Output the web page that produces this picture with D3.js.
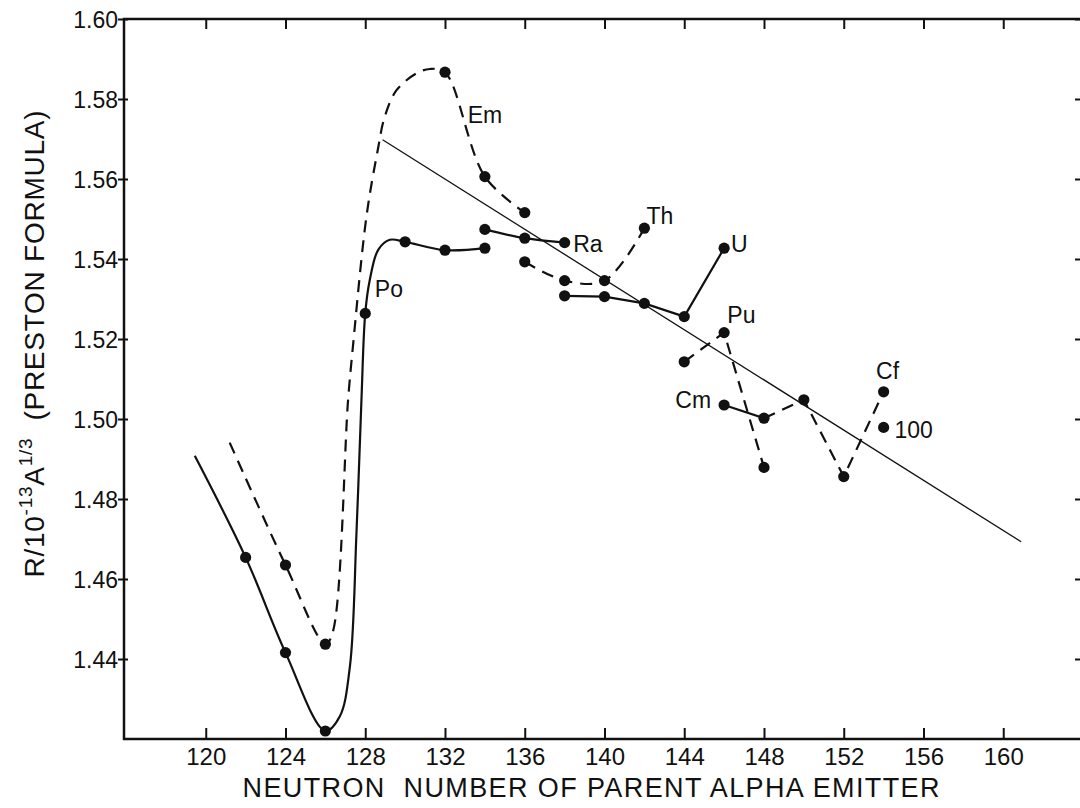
<!DOCTYPE html>
<html>
<head>
<meta charset="utf-8">
<script src="https://cdn.jsdelivr.net/npm/d3@7"></script>
<style>
  html, body { margin: 0; padding: 0; background: #fff; }
  svg { display: block; }
  text { font-family: "Liberation Sans", "DejaVu Sans", sans-serif; fill: #111; }
</style>
</head>
<body>
<div id="chart"></div>
<script>
// tick labels
var xTicks = [120, 124, 128, 132, 136, 140, 144, 148, 152, 156, 160];
var yTicks = [1.44, 1.46, 1.48, 1.50, 1.52, 1.54, 1.56, 1.58, 1.60];

// measured points (dots), [neutron number, R/10^-13 A^1/3]
var poDots = [[122, 1.4654], [124, 1.4416], [126, 1.4220], [128, 1.5264], [130, 1.5443], [132, 1.5422], [134, 1.5427]];
var emDots = [[124, 1.4635], [126, 1.4437], [132, 1.5867], [134, 1.5606], [136, 1.5516]];
var raDots = [[134, 1.5474], [136, 1.5452], [138, 1.5441]];
var thDots = [[136, 1.5393], [138, 1.5346], [140, 1.5346], [142, 1.5477]];
var uDots = [[138, 1.5308], [140, 1.5306], [142, 1.5289], [144, 1.5256], [146, 1.5427]];
var puDots = [[144, 1.5143], [146, 1.5216], [148, 1.4879]];
var cmDots = [[146, 1.5035], [148, 1.5002]];
var cfDots = [[150, 1.5048], [152, 1.4856], [154, 1.5068]];
var e100Dots = [[154, 1.4979]];

// hand drawn curves (ends and bends included)
var poCurve = [[119.45, 1.4908], [122, 1.4654], [124, 1.4416], [126, 1.4220], [126.72, 1.4256], [127.23, 1.4381],
  [127.56, 1.4715], [127.81, 1.5048], [128, 1.5264], [128.23, 1.5348], [128.65, 1.5423], [129.23, 1.5448],
  [130, 1.5443], [132, 1.5422], [134, 1.5427]];
var emCurve = [[121.2, 1.4941], [124, 1.4635], [126, 1.4437], [126.36, 1.4465], [127.14, 1.5048], [127.38, 1.518],
  [128.06, 1.5506], [128.63, 1.5673], [128.98, 1.5756], [129.57, 1.5822], [130.57, 1.5864], [131.24, 1.5875],
  [132, 1.5867], [134, 1.5606], [136, 1.5516]];
var cfCurve = [[148, 1.5002], [150, 1.5048], [152, 1.4856], [154, 1.5068]];
var trendLine = [[128.87, 1.5698], [160.9, 1.4693]];

var elementNames = ["Po", "Em", "Ra", "Th", "U", "Pu", "Cm", "Cf", "100"];
var labelAt = [[128.48, 1.5305], [133.14, 1.5741], [138.43, 1.5418], [142.11, 1.5488], [146.34, 1.5418],
  [146.16, 1.5239], [143.55, 1.5027], [153.62, 1.5099], [154.54, 1.4952]];

var width = 1080,
    height = 808;

var x = d3.scaleLinear().domain([115.9, 163.85]).range([124, 1080]);
var y = d3.scaleLinear().domain([1.42, 1.60]).range([739, 19]);

var svg = d3.select("#chart").append("svg").attr("width", width).attr("height", height);

// frame
var x0 = x.range()[0], x1 = x.range()[1] + 2, yTop = y.range()[1], yBot = y.range()[0];
svg.append("path")
  .attr("d", "M" + x0 + "," + yTop + "H" + x1 + "V" + yBot + "H" + x0 + "Z")
  .attr("fill", "none").attr("stroke", "#111").attr("stroke-width", 2.5);

// bottom axis, ticks pointing in
var xAxis = d3.axisBottom(x).tickValues(xTicks).tickSizeInner(-11).tickSizeOuter(0).tickPadding(16).tickFormat(d3.format("d"));
var gx = svg.append("g").attr("transform", "translate(0," + yBot + ")").call(xAxis);
gx.select(".domain").remove();
gx.selectAll("line").attr("stroke", "#111").attr("stroke-width", 2);
gx.selectAll("text").attr("font-size", 24).attr("fill", "#111").attr("dy", "0.42em");

// top ticks
var gxt = svg.append("g").attr("transform", "translate(0," + yTop + ")")
  .call(d3.axisTop(x).tickValues(xTicks).tickSizeInner(-10).tickSizeOuter(0).tickFormat(""));
gxt.select(".domain").remove();
gxt.selectAll("line").attr("stroke", "#111").attr("stroke-width", 2);

// left axis, ticks crossing the line
var gy = svg.append("g").attr("transform", "translate(" + x0 + ",0)")
  .call(d3.axisLeft(y).tickValues(yTicks).tickSizeInner(6).tickSizeOuter(0).tickPadding(2).tickFormat(d3.format(".2f")));
gy.select(".domain").remove();
gy.selectAll("line").attr("stroke", "#111").attr("stroke-width", 2).attr("x2", 4).attr("x1", -6);
gy.selectAll("text").attr("font-size", 23).attr("fill", "#111").attr("x", -6).attr("dy", "0.36em");

// right ticks
var gyr = svg.append("g").attr("transform", "translate(" + x1 + ",0)")
  .call(d3.axisRight(y).tickValues(yTicks).tickSizeInner(-7).tickSizeOuter(0).tickFormat(""));
gyr.select(".domain").remove();
gyr.selectAll("line").attr("stroke", "#111").attr("stroke-width", 2);

// axis titles
svg.append("text")
  .attr("x", 591).attr("y", 797)
  .attr("text-anchor", "middle")
  .attr("font-size", 27)
  .attr("textLength", 697).attr("lengthAdjust", "spacing")
  .attr("xml:space", "preserve")
  .text("NEUTRON  NUMBER OF PARENT ALPHA EMITTER");

var yTitle = svg.append("text")
  .attr("transform", "translate(44,344) rotate(-90)")
  .attr("text-anchor", "middle")
  .attr("font-size", 28)
  .attr("textLength", 467).attr("lengthAdjust", "spacing")
  .attr("xml:space", "preserve");
yTitle.append("tspan").text("R/10");
yTitle.append("tspan").attr("font-size", 19).attr("dy", -12).text("-13");
yTitle.append("tspan").attr("dy", 12).text("A");
yTitle.append("tspan").attr("font-size", 19).attr("dy", -12).text("1/3");
yTitle.append("tspan").attr("dy", 12).text("  (PRESTON FORMULA)");

// lines
var smooth = d3.line().x(function(d) { return x(d[0]); }).y(function(d) { return y(d[1]); }).curve(d3.curveCatmullRom.alpha(0.5));
var straight = d3.line().x(function(d) { return x(d[0]); }).y(function(d) { return y(d[1]); });

var lines = [
  { pts: trendLine, gen: straight, dash: null, w: 1.3 },
  { pts: poCurve, gen: smooth, dash: null, w: 2.2 },
  { pts: emCurve, gen: smooth, dash: "12,8", w: 2.2 },
  { pts: raDots, gen: smooth, dash: null, w: 2.2 },
  { pts: thDots, gen: smooth, dash: "12,8", w: 2.2 },
  { pts: uDots, gen: straight, dash: null, w: 2.2 },
  { pts: puDots, gen: straight, dash: "12,8", w: 2.2 },
  { pts: cmDots, gen: smooth, dash: null, w: 2.2 },
  { pts: cfCurve, gen: straight, dash: "12,8", w: 2.2 }
];

svg.append("g").selectAll("path").data(lines).enter().append("path")
  .attr("d", function(d) { return d.gen(d.pts); })
  .attr("fill", "none")
  .attr("stroke", "#111")
  .attr("stroke-width", function(d) { return d.w; })
  .attr("stroke-dasharray", function(d) { return d.dash; });

// dots
var allDots = [].concat(poDots, emDots, raDots, thDots, uDots, puDots, cmDots, cfDots, e100Dots);
svg.append("g").selectAll("circle").data(allDots).enter().append("circle")
  .attr("cx", function(d) { return x(d[0]); })
  .attr("cy", function(d) { return y(d[1]); })
  .attr("r", 5.6)
  .attr("fill", "#111");

// element labels
svg.append("g").selectAll("text").data(elementNames).enter().append("text")
  .attr("x", function(d, i) { return x(labelAt[i][0]); })
  .attr("y", function(d, i) { return y(labelAt[i][1]); })
  .attr("font-size", 23)
  .text(function(d) { return d; });
</script>
</body>
</html>
